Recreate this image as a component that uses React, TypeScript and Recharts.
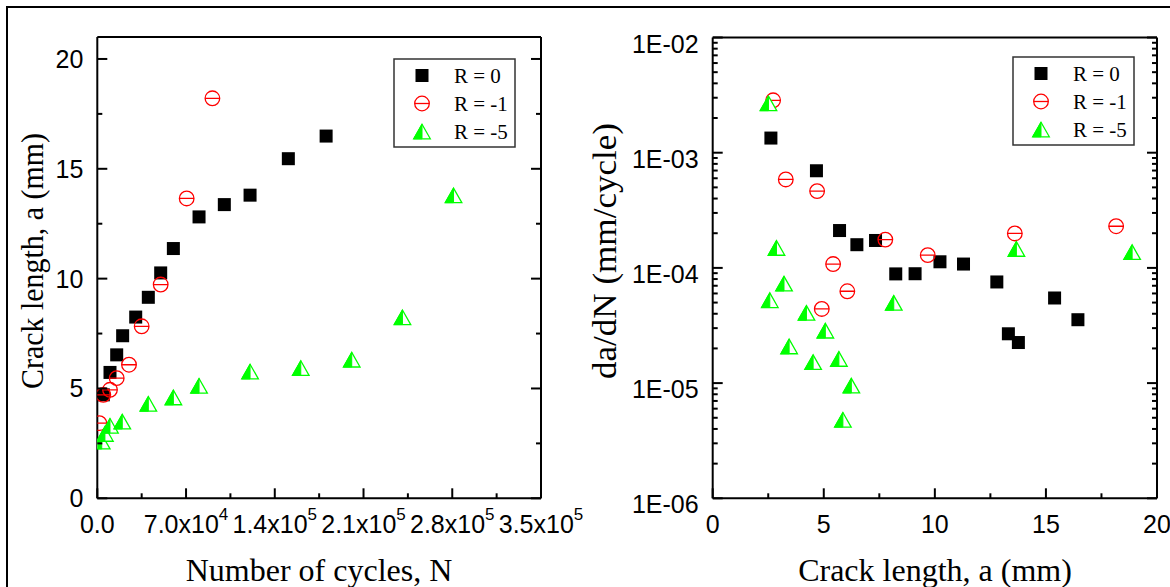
import React from 'react';
import { ScatterChart, Scatter, XAxis, YAxis, Legend } from 'recharts';

// ---------- Left panel: crack length vs number of cycles ----------
const cyclesR0 = [4735, 10020, 15300, 20000, 30300, 40250, 50000, 60000, 80250, 100200, 120500, 150700, 180500];
const lengthR0 = [4.71, 5.73, 6.53, 7.4, 8.25, 9.15, 10.26, 11.37, 12.81, 13.37, 13.8, 15.46, 16.49];

const cyclesRm1 = [1600, 4735, 10000, 15300, 25000, 35000, 50000, 70500, 90800];
const lengthRm1 = [3.42, 4.71, 4.94, 5.47, 6.08, 7.83, 9.73, 13.65, 18.21];

const cyclesRm5 = [3500, 6000, 10000, 19700, 40250, 60000, 80250, 120500, 160500, 200700, 240700, 281000];
const lengthRm5 = [2.58, 2.93, 3.3, 3.49, 4.3, 4.59, 5.12, 5.77, 5.93, 6.31, 8.24, 13.79];

const cycleTicksMajor = [0, 70000, 140000, 210000, 280000, 350000];
const cycleTickLabels = ['0.0', '7.0x10^4', '1.4x10^5', '2.1x10^5', '2.8x10^5', '3.5x10^5'];
const cycleTicksAll = [0, 35000, 70000, 105000, 140000, 175000, 210000, 245000, 280000, 315000, 350000];

const lengthTicksMajor = [0, 5, 10, 15, 20];
const lengthTickLabels = ['0', '5', '10', '15', '20'];
const lengthTicksAll = [0, 2.5, 5, 7.5, 10, 12.5, 15, 17.5, 20];

// ---------- Right panel: da/dN vs crack length ----------
const aR0 = [2.62, 4.67, 5.71, 6.49, 7.33, 8.24, 9.11, 10.23, 11.29, 12.79, 13.31, 13.76, 15.39, 16.44];
const rateR0 = [1.34e-3, 6.97e-4, 2.11e-4, 1.59e-4, 1.73e-4, 8.87e-5, 8.9e-5, 1.13e-4, 1.08e-4, 7.55e-5, 2.68e-5, 2.25e-5, 5.48e-5, 3.55e-5];

const aRm1 = [2.72, 3.29, 4.7, 4.91, 5.42, 6.06, 7.77, 9.68, 13.6, 18.16];
const rateRm1 = [2.85e-3, 5.86e-4, 4.64e-4, 4.4e-5, 1.08e-4, 6.27e-5, 1.76e-4, 1.29e-4, 1.99e-4, 2.3e-4];

const aRm5 = [2.51, 2.57, 2.87, 3.21, 3.44, 4.22, 4.52, 5.07, 5.68, 5.86, 6.24, 8.15, 13.67, 18.88];
const rateRm5 = [2.68e-3, 5.24e-5, 1.49e-4, 7.3e-5, 2.08e-5, 4.07e-5, 1.52e-5, 2.85e-5, 1.62e-5, 4.8e-6, 9.5e-6, 4.97e-5, 1.46e-4, 1.37e-4];

const aTicksMajor = [0, 5, 10, 15, 20];
const aTickLabels = ['0', '5', '10', '15', '20'];
const aTicksAll = [0, 2.5, 5, 7.5, 10, 12.5, 15, 17.5, 20];

const rateTicksMajor = [1e-6, 1e-5, 1e-4, 1e-3, 1e-2];
const rateTickLabels = ['1E-06', '1E-05', '1E-04', '1E-03', '1E-02'];
const rateTicksAll = [
  1e-6, 2e-6, 3e-6, 4e-6, 5e-6, 6e-6, 7e-6, 8e-6, 9e-6,
  1e-5, 2e-5, 3e-5, 4e-5, 5e-5, 6e-5, 7e-5, 8e-5, 9e-5,
  1e-4, 2e-4, 3e-4, 4e-4, 5e-4, 6e-4, 7e-4, 8e-4, 9e-4,
  1e-3, 2e-3, 3e-3, 4e-3, 5e-3, 6e-3, 7e-3, 8e-3, 9e-3,
  1e-2,
];

const seriesNames = ['R = 0', 'R = -1', 'R = -5'];

const zip = (xs: number[], ys: number[]) => xs.map((x, i) => ({ x, y: ys[i] }));

const SANS = '"Liberation Sans", Arial, sans-serif';
const SERIF = '"Liberation Serif", "Times New Roman", serif';
const GREEN = '#00ff00';
const RED = '#ff0000';

// ---------- marker shapes ----------
const SquareShape = (props: any) => {
  const { cx, cy } = props;
  if (cx == null || cy == null) return null;
  return <rect x={cx - 6.5} y={cy - 6.5} width={13} height={13} fill="#000" />;
};
const CircleShape = (props: any) => {
  const { cx, cy } = props;
  if (cx == null || cy == null) return null;
  const r = 7.3;
  return (
    <g>
      <circle cx={cx} cy={cy} r={r} fill="none" stroke={RED} strokeWidth={1.3} />
      <line x1={cx - r} x2={cx + r} y1={cy} y2={cy} stroke={RED} strokeWidth={1.3} />
    </g>
  );
};
const TriangleShape = (props: any) => {
  const { cx, cy } = props;
  if (cx == null || cy == null) return null;
  const w = 8.3;
  const h = 7.3;
  return (
    <g>
      <polygon points={`${cx},${cy - h} ${cx + w},${cy + h} ${cx - w},${cy + h}`} fill="#fff" stroke={GREEN} strokeWidth={1.3} />
      <polygon points={`${cx},${cy - h} ${cx},${cy + h} ${cx - w},${cy + h}`} fill={GREEN} stroke={GREEN} strokeWidth={1} />
    </g>
  );
};

// ---------- ticks (drawn inward) ----------
const isIn = (v: number, arr: number[]) => arr.findIndex((m) => Math.abs(m - v) <= Math.abs(m) * 1e-6 + 1e-12);

const renderLabelText = (s: string) => {
  const parts = s.split('^');
  if (parts.length === 1) return parts[0];
  return (
    <>
      <tspan>{parts[0]}</tspan>
      <tspan dy={-13} fontSize={17}>{parts[1]}</tspan>
    </>
  );
};

const makeTick = (
  side: 'bottom' | 'top' | 'left' | 'right',
  majors: number[],
  labels: string[] | null,
  labelDy = 0,
) => (props: any) => {
  const { x, y, payload } = props;
  const idx = isIn(payload.value, majors);
  const major = idx >= 0;
  const len = major ? 10 : 5;
  let line;
  if (side === 'bottom') line = <line x1={x} x2={x} y1={y} y2={y - len} stroke="#000" strokeWidth={2} />;
  else if (side === 'top') line = <line x1={x} x2={x} y1={y} y2={y + len} stroke="#000" strokeWidth={2} />;
  else if (side === 'left') line = <line x1={x} x2={x + len} y1={y} y2={y} stroke="#000" strokeWidth={2} />;
  else line = <line x1={x} x2={x - len} y1={y} y2={y} stroke="#000" strokeWidth={2} />;
  let label = null;
  if (labels && major) {
    if (side === 'bottom') {
      label = (
        <text x={x} y={y + 35} textAnchor="middle" fontFamily={SANS} fontSize={25} fill="#000">
          {renderLabelText(labels[idx])}
        </text>
      );
    } else if (side === 'left') {
      label = (
        <text x={x - 14} y={y + labelDy} dy="0.36em" textAnchor="end" fontFamily={SANS} fontSize={25} fill="#000">
          {labels[idx]}
        </text>
      );
    }
  }
  return (
    <g>
      {line}
      {label}
    </g>
  );
};

// ---------- legend ----------
const LegendBox = () => {
  const rows = [0, 28, 56];
  return (
    <svg width={124} height={91} style={{ display: 'block' }}>
      <rect x={1} y={1} width={121} height={88} fill="#fff" stroke="#333" strokeWidth={1.5} />
      {seriesNames.map((name, i) => {
        const cy = 17.5 + rows[i];
        const cx = 29;
        const Shape = i === 0 ? SquareShape : i === 1 ? CircleShape : TriangleShape;
        return (
          <g key={name}>
            <Shape cx={cx} cy={cy} />
            <text x={61} y={cy} dy="0.35em" fontFamily={SERIF} fontSize={21} fill="#000">
              {name}
            </text>
          </g>
        );
      })}
    </svg>
  );
};

const axisLine = { stroke: '#000', strokeWidth: 2 };

export default function App() {
  return (
    <div style={{ position: 'absolute', left: 0, top: 0, width: 1170, height: 587, overflow: 'hidden', background: '#fff' }}>
      <div
        style={{
          position: 'absolute',
          left: 6,
          top: 6,
          width: 1164,
          height: 581,
          borderLeft: '2.5px solid #000',
          borderTop: '2.5px solid #000',
          boxSizing: 'border-box',
        }}
      />
      {/* Left panel */}
      <div style={{ position: 'absolute', left: 0, top: 0 }}>
        <ScatterChart width={620} height={587} margin={{ top: 36, right: 78, bottom: 87.7, left: 96.3 }}>
          <XAxis
            xAxisId="b"
            dataKey="x"
            type="number"
            domain={[0, 350000]}
            ticks={cycleTicksAll}
            interval={0}
            height={1}
            tickSize={0}
            tickMargin={0}
            axisLine={axisLine}
            tickLine={false}
            tick={makeTick('bottom', cycleTicksMajor, cycleTickLabels)}
            allowDataOverflow
            label={{
              content: () => (
                <text x={319} y={581} textAnchor="middle" fontFamily={SERIF} fontSize={32} fill="#000">
                  Number of cycles, N
                </text>
              ),
            }}
          />
          <XAxis
            xAxisId="t"
            orientation="top"
            type="number"
            domain={[0, 350000]}
            ticks={cycleTicksAll}
            interval={0}
            height={1}
            tickSize={0}
            tickMargin={0}
            axisLine={axisLine}
            tickLine={false}
            tick={makeTick('top', cycleTicksMajor, null)}
            allowDataOverflow
          />
          <YAxis
            yAxisId="l"
            dataKey="y"
            type="number"
            domain={[0, 21]}
            ticks={lengthTicksAll}
            interval={0}
            width={1}
            tickSize={0}
            tickMargin={0}
            axisLine={axisLine}
            tickLine={false}
            tick={makeTick('left', lengthTicksMajor, lengthTickLabels)}
            allowDataOverflow
            label={{
              content: () => (
                <text
                  transform="rotate(-90)"
                  x={-261}
                  y={43}
                  textAnchor="middle"
                  fontFamily={SERIF}
                  fontSize={31}
                  textLength={256}
                  lengthAdjust="spacingAndGlyphs"
                  fill="#000"
                >
                  Crack length, a (mm)
                </text>
              ),
            }}
          />
          <YAxis
            yAxisId="r"
            orientation="right"
            type="number"
            domain={[0, 21]}
            ticks={lengthTicksAll}
            interval={0}
            width={1}
            tickSize={0}
            tickMargin={0}
            axisLine={axisLine}
            tickLine={false}
            tick={makeTick('right', lengthTicksMajor, null)}
            allowDataOverflow
          />
          <Scatter name={seriesNames[0]} xAxisId="b" yAxisId="l" data={zip(cyclesR0, lengthR0)} shape={SquareShape} isAnimationActive={false} />
          <Scatter name={seriesNames[1]} xAxisId="b" yAxisId="l" data={zip(cyclesRm1, lengthRm1)} shape={CircleShape} isAnimationActive={false} />
          <Scatter name={seriesNames[2]} xAxisId="b" yAxisId="l" data={zip(cyclesRm5, lengthRm5)} shape={TriangleShape} isAnimationActive={false} />
          <Legend
            layout="vertical"
            align="center"
            verticalAlign="middle"
            content={() => <LegendBox />}
            wrapperStyle={{ left: 393, top: 58, width: 124, height: 91 }}
          />
        </ScatterChart>
      </div>
      {/* Right panel */}
      <div style={{ position: 'absolute', left: 560, top: 0 }}>
        <ScatterChart width={610} height={587} margin={{ top: 36.5, right: 12, bottom: 87.7, left: 151.7 }}>
          <XAxis
            xAxisId="b"
            dataKey="x"
            type="number"
            domain={[0, 20]}
            ticks={aTicksAll}
            interval={0}
            height={1}
            tickSize={0}
            tickMargin={0}
            axisLine={axisLine}
            tickLine={false}
            tick={makeTick('bottom', aTicksMajor, aTickLabels)}
            allowDataOverflow
            label={{
              content: () => (
                <text x={375} y={581} textAnchor="middle" fontFamily={SERIF} fontSize={32} fill="#000">
                  Crack length, a (mm)
                </text>
              ),
            }}
          />
          <XAxis
            xAxisId="t"
            orientation="top"
            type="number"
            domain={[0, 20]}
            ticks={aTicksAll}
            interval={0}
            height={1}
            tickSize={0}
            tickMargin={0}
            axisLine={axisLine}
            tickLine={false}
            tick={makeTick('top', aTicksMajor, null)}
            allowDataOverflow
          />
          <YAxis
            yAxisId="l"
            dataKey="y"
            type="number"
            scale="log"
            domain={[1e-6, 1e-2]}
            ticks={rateTicksAll}
            interval={0}
            width={1}
            tickSize={0}
            tickMargin={0}
            axisLine={axisLine}
            tickLine={false}
            tick={makeTick('left', rateTicksMajor, rateTickLabels, 6)}
            allowDataOverflow
            label={{
              content: () => (
                <text
                  transform="rotate(-90)"
                  x={-251}
                  y={56}
                  textAnchor="middle"
                  fontFamily={SERIF}
                  fontSize={34}
                  textLength={256}
                  lengthAdjust="spacingAndGlyphs"
                  fill="#000"
                >
                  da/dN (mm/cycle)
                </text>
              ),
            }}
          />
          <YAxis
            yAxisId="r"
            orientation="right"
            type="number"
            scale="log"
            domain={[1e-6, 1e-2]}
            ticks={rateTicksAll}
            interval={0}
            width={1}
            tickSize={0}
            tickMargin={0}
            axisLine={axisLine}
            tickLine={false}
            tick={makeTick('right', rateTicksMajor, null)}
            allowDataOverflow
          />
          <Scatter name={seriesNames[0]} xAxisId="b" yAxisId="l" data={zip(aR0, rateR0)} shape={SquareShape} isAnimationActive={false} />
          <Scatter name={seriesNames[1]} xAxisId="b" yAxisId="l" data={zip(aRm1, rateRm1)} shape={CircleShape} isAnimationActive={false} />
          <Scatter name={seriesNames[2]} xAxisId="b" yAxisId="l" data={zip(aRm5, rateRm5)} shape={TriangleShape} isAnimationActive={false} />
          <Legend
            layout="vertical"
            align="center"
            verticalAlign="middle"
            content={() => <LegendBox />}
            wrapperStyle={{ left: 452, top: 56, width: 124, height: 91 }}
          />
        </ScatterChart>
      </div>
    </div>
  );
}
